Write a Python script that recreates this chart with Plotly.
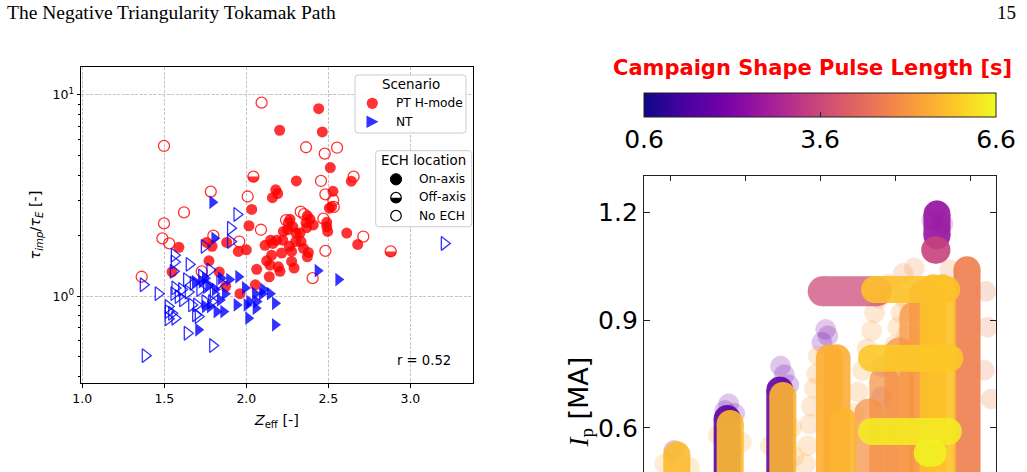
import plotly.graph_objects as go
from plotly.colors import sample_colorscale

FIG_W, FIG_H = 1027, 472

# ---------------- left panel data (Zeff, tau_imp/tau_E) ----------------
PT_ON_ZEFF = [2.441, 2.203, 2.463, 2.512, 2.305, 2.640, 2.179, 2.191, 2.159, 2.528, 2.506, 2.033,
              2.016, 2.266, 2.372, 2.364, 2.388, 2.252, 2.303, 2.283, 2.222, 2.185, 2.333, 2.348,
              2.378, 2.372, 2.276, 2.215, 2.154, 2.124, 2.144, 2.195, 2.205, 2.276, 2.291, 2.063,
              2.140, 2.055, 1.961, 2.612, 2.679, 2.496, 2.490, 1.589, 1.772, 1.791, 1.758, 1.880,
              1.951, 2.000, 2.114, 2.148, 1.835, 1.874, 1.547, 2.490, 2.520, 2.256, 2.226, 2.408,
              2.301, 2.262, 2.327, 2.368, 2.161]
PT_ON_TAU = [8.55, 6.68, 6.55, 4.36, 3.74, 3.73, 3.38, 3.24, 3.09, 3.32, 2.74, 2.70,
             2.24, 2.41, 2.51, 2.32, 2.41, 2.14, 2.06, 2.22, 1.90, 1.90, 1.87, 1.73,
             1.65, 1.57, 1.67, 1.64, 1.60, 1.50, 1.43, 1.40, 1.33, 1.49, 1.38, 1.36,
             1.25, 1.14, 1.03, 2.06, 1.81, 2.10, 2.33, 1.75, 1.50, 1.77, 1.85, 1.85,
             1.67, 1.70, 1.79, 1.90, 1.32, 1.12, 1.32, 2.22, 2.79, 2.32, 2.10, 2.26,
             1.87, 1.77, 2.06, 2.19, 1.83]

PT_NO_ZEFF = [2.093, 1.498, 2.364, 2.478, 2.553, 1.783, 2.455, 2.654, 2.008, 2.482, 2.530, 2.533,
              1.620, 1.498, 1.488, 1.530, 2.089, 1.957, 1.799, 2.331, 2.242, 2.470, 2.713, 2.482,
              1.362, 2.404, 1.728, 2.352]
PT_NO_TAU = [9.16, 5.58, 5.50, 5.11, 5.47, 3.31, 3.74, 3.93, 3.13, 3.21, 3.00, 2.78,
             2.61, 2.30, 1.94, 1.83, 2.14, 1.87, 2.00, 2.63, 2.39, 2.43, 1.98, 1.68,
             1.25, 1.23, 1.33, 2.56]

PT_OFF_ZEFF = [2.043, 2.880]
PT_OFF_TAU = [3.93, 1.67]

NT_ON_ZEFF = [1.793, 1.805, 2.435, 2.561, 1.951, 1.992, 2.104, 2.144, 2.175, 2.018, 2.063, 2.057,
              2.012, 2.175, 1.870, 1.839, 1.860, 1.819, 1.707, 1.748, 1.687, 1.728, 1.768, 1.748,
              1.846, 1.896, 2.002, 1.941, 2.096, 2.053, 1.778, 1.809]
NT_ON_TAU = [2.93, 1.94, 1.34, 1.21, 1.25, 1.10, 1.08, 1.03, 0.923, 0.941, 0.941, 0.872,
             0.778, 0.721, 1.03, 0.959, 0.839, 0.839, 0.681, 0.889, 1.18, 1.18, 1.14, 1.23,
             1.23, 1.21, 0.906, 0.906, 1.03, 1.03, 0.889, 1.08]

NT_NO_ZEFF = [1.384, 1.795, 1.640, 3.207, 1.943, 1.904, 1.904, 1.744, 1.561, 1.561, 1.555, 1.652,
              1.372, 1.463, 1.524, 1.524, 1.524, 1.565, 1.748, 1.691, 1.565, 1.606, 1.646, 1.585,
              1.677, 1.717, 1.758, 1.667, 1.612, 1.559, 1.778, 1.839, 1.799, 1.697, 1.789, 1.728,
              1.636, 1.545, 1.707]
NT_NO_TAU = [0.507, 0.569, 0.655, 1.83, 2.55, 2.18, 1.87, 1.77, 1.60, 1.48, 1.33, 1.44,
             1.14, 1.03, 0.889, 0.839, 0.772, 0.778, 0.941, 0.808, 1.10, 1.08, 1.05, 0.996,
             1.16, 1.08, 1.12, 0.906, 0.959, 1.03, 1.35, 1.17, 1.03, 0.906, 0.941, 1.26,
             1.21, 0.823, 0.793]

LEFT_X_TICKS = [1.0, 1.5, 2.0, 2.5, 3.0]
LEFT_Y_TICKS = [1, 10]
LEFT_Y_TICKTEXT = ["10<sup>0</sup>", "10<sup>1</sup>"]
LEFT_Y_MINOR = [0.4, 0.5, 0.6, 0.7, 0.8, 0.9, 2, 3, 4, 5, 6, 7, 8, 9]
R_VALUE = 0.52

SCENARIOS = ["PT H-mode", "NT"]
ECH_LOCATIONS = ["On-axis", "Off-axis", "No ECH"]

# ---------------- right panel data (x, Ip [MA], pulse length [s]) ----------------
LIGHT_X = [0.05, 0.78, 0.73, 0.86, 1.47, 1.52, 1.58, 2.07, 2.10, 2.02,
           3.55, 3.48, 3.63, 3.58, 2.81, 2.81,
           1.80, 1.83, 1.86, 1.88, 1.92, 1.95, 1.97,
           2.45, 2.50, 2.56, 2.62, 2.68, 2.72, 2.78,
           2.95, 2.99, 3.03, 3.07, 3.12, 3.15, 3.20,
           4.22, 4.27, 4.18, 4.20,
           3.10, 3.25, 3.72, 2.90,
           1.62, 1.65, 1.33, 0.95, 0.64, -0.07, 0.26]
LIGHT_IP = [0.537, 0.667, 0.648, 0.640, 0.772, 0.748, 0.720, 0.874, 0.856, 0.838,
            1.205, 1.178, 1.168, 1.150, 0.770, 0.686,
            0.50, 0.55, 0.61, 0.66, 0.71, 0.75, 0.80,
            0.64, 0.70, 0.76, 0.82, 0.87, 0.92, 0.96,
            0.78, 0.83, 0.88, 0.92, 0.96, 0.86, 0.92,
            0.88, 0.68, 0.76, 0.98,
            1.030, 1.045, 1.040, 1.000,
            0.60, 0.52, 0.55, 0.56, 0.58, 0.50, 0.49]
LIGHT_PULSE = [1.6, 1.9, 1.6, 1.8, 2.0, 1.8, 1.9, 2.1, 1.9, 1.8,
               2.4, 2.4, 2.5, 2.6, 2.0, 1.8,
               5.3, 5.3, 5.2, 5.2, 5.3, 5.2, 5.2,
               5.3, 5.2, 5.3, 5.2, 5.3, 5.2, 5.2,
               5.4, 5.3, 5.4, 5.3, 5.3, 5.2, 5.2,
               4.7, 4.7, 4.7, 4.6,
               4.9, 5.0, 4.9, 5.1,
               5.4, 5.4, 5.5, 5.4, 5.5, 5.5, 5.6]

# translucent runs (start/end x, start/end Ip, pulse length)
SOFT_X0 = [2.65, 2.85, 3.05, 3.25, 3.38, 2.03]
SOFT_X1 = [2.65, 2.85, 3.05, 3.25, 3.38, 2.75]
SOFT_IP0 = [0.40, 0.40, 0.40, 0.40, 0.40, 0.980]
SOFT_IP1 = [0.64, 0.73, 0.81, 0.91, 0.97, 0.980]
SOFT_PULSE = [5.0, 5.0, 5.0, 5.1, 5.1, 3.6]

# dense runs
SOLID_X0 = [3.95, 0.76, 1.46, 0.09, 0.80, 1.50, 2.12, 2.22, 2.30, 3.50, 3.62, 2.72, 2.68, 2.68, 3.42, 3.55, 3.52]
SOLID_X1 = [3.95, 0.76, 1.46, 0.09, 0.80, 1.50, 2.12, 2.22, 2.30, 3.50, 3.62, 3.68, 3.72, 3.70, 3.50, 3.55, 3.55]
SOLID_IP0 = [0.40, 0.40, 0.40, 0.40, 0.40, 0.40, 0.40, 0.40, 0.40, 0.40, 0.40, 0.985, 0.794, 0.590, 0.530, 1.135, 1.095]
SOLID_IP1 = [1.04, 0.626, 0.705, 0.525, 0.612, 0.690, 0.795, 0.795, 0.620, 0.990, 0.990, 0.985, 0.794, 0.590, 0.530, 1.195, 1.095]
SOLID_PULSE = [4.7, 1.6, 1.7, 5.7, 5.7, 5.6, 5.5, 5.5, 5.6, 5.8, 5.8, 5.8, 5.9, 6.4, 6.5, 2.5, 3.5]

RIGHT_X_TICKS = [0, 1, 2, 3, 4]
RIGHT_Y_TICKS = [0.6, 0.9, 1.2]
CBAR_MIN, CBAR_MAX = 0.6, 6.6
CBAR_TICKS = [0.6, 3.6, 6.6]

FONT = "DejaVu Sans"
RED = "rgba(255,0,0,0.8)"
BLUE = "rgba(0,0,255,0.8)"
GRID_DASH = "3px,1.5px"


def fx(px):
    return px / FIG_W


def fy(py):
    return 1 - py / FIG_H


def pulse_color(p):
    return sample_colorscale("Plasma", [(p - CBAR_MIN) / (CBAR_MAX - CBAR_MIN)])[0]


fig = go.Figure()

# ---------------- left panel ----------------
fig.add_trace(go.Scatter(x=PT_ON_ZEFF, y=PT_ON_TAU, mode="markers", xaxis="x", yaxis="y",
                         marker=dict(symbol="circle", size=11, color=RED, line=dict(width=0)),
                         showlegend=False, hoverinfo="skip"))
fig.add_trace(go.Scatter(x=PT_NO_ZEFF, y=PT_NO_TAU, mode="markers", xaxis="x", yaxis="y",
                         marker=dict(symbol="circle-open", size=11, color=RED, line=dict(width=1.3)),
                         showlegend=False, hoverinfo="skip"))
fig.add_trace(go.Scatter(x=PT_OFF_ZEFF, y=PT_OFF_TAU, mode="markers", xaxis="x", yaxis="y",
                         marker=dict(symbol="circle-open", size=11, color=RED, line=dict(width=1.3)),
                         showlegend=False, hoverinfo="skip"))
fig.add_trace(go.Scatter(x=NT_ON_ZEFF, y=NT_ON_TAU, mode="markers", xaxis="x", yaxis="y",
                         marker=dict(symbol="triangle-right", size=12, color=BLUE, line=dict(width=0)),
                         showlegend=False, hoverinfo="skip"))
fig.add_trace(go.Scatter(x=NT_NO_ZEFF, y=NT_NO_TAU, mode="markers", xaxis="x", yaxis="y",
                         marker=dict(symbol="triangle-right-open", size=12, color=BLUE, line=dict(width=1.3)),
                         showlegend=False, hoverinfo="skip"))

shapes = []


def half_disk(r):
    k = 0.5523 * r
    return (f"M {-r},0 C {-r},{-k} {-k},{-r} 0,{-r} C {k},{-r} {r},{-k} {r},0 Z")


# bottom-half fill for off-axis points (anchored at the data values)
for z, t in zip(PT_OFF_ZEFF, PT_OFF_TAU):
    shapes.append(dict(type="path", xref="x", yref="y", xsizemode="pixel", ysizemode="pixel",
                       xanchor=z, yanchor=t, path=half_disk(5.5), fillcolor=RED,
                       line=dict(width=0), layer="above"))


# ---- manual legends (screen-pixel layout anchored at the top-left of the figure) ----
def pix_shape(**kw):
    d = dict(xref="paper", yref="paper", xsizemode="pixel", ysizemode="pixel",
             xanchor=0, yanchor=1, layer="above")
    d.update(kw)
    return d


def rrect(x0, y0, x1, y1, r=3):
    return (f"M {x0 + r},{-y0} L {x1 - r},{-y0} Q {x1},{-y0} {x1},{-(y0 + r)} "
            f"L {x1},{-(y1 - r)} Q {x1},{-y1} {x1 - r},{-y1} L {x0 + r},{-y1} "
            f"Q {x0},{-y1} {x0},{-(y1 - r)} L {x0},{-(y0 + r)} Q {x0},{-y0} {x0 + r},{-y0} Z")


def circ(cx, cy, r, **kw):
    return pix_shape(type="circle", x0=cx - r, x1=cx + r, y0=-(cy - r), y1=-(cy + r), **kw)


# Scenario legend
shapes.append(pix_shape(type="path", path=rrect(355, 75, 466, 133),
                        fillcolor="rgba(255,255,255,0.85)", line=dict(color="#cccccc", width=1)))
shapes.append(circ(372.3, 103.3, 5.6, fillcolor=RED, line=dict(width=0)))
shapes.append(pix_shape(type="path", path="M 366.5,-115.5 L 378.5,-121.7 L 366.5,-127.9 Z",
                        fillcolor=BLUE, line=dict(width=0)))
# ECH location legend
shapes.append(pix_shape(type="path", path=rrect(375.7, 150.7, 471.7, 226.7),
                        fillcolor="rgba(255,255,255,0.85)", line=dict(color="#cccccc", width=1)))
shapes.append(circ(396, 179.3, 5.6, fillcolor="black", line=dict(color="black", width=1)))
shapes.append(circ(396, 197.7, 5.3, fillcolor="white", line=dict(color="black", width=1.2)))
shapes.append(pix_shape(type="path",
                        path="M 390.7,-197.7 C 390.7,-200.6 393.1,-203 396,-203 "
                             "C 398.9,-203 401.3,-200.6 401.3,-197.7 Z",
                        fillcolor="black", line=dict(width=0)))
shapes.append(circ(396, 215.7, 5.3, fillcolor="white", line=dict(color="black", width=1.2)))

annotations = []
annotations.append(dict(text="Scenario", x=fx(410.5), y=fy(85), xref="paper", yref="paper",
                        showarrow=False, xanchor="center", yanchor="middle",
                        font=dict(family=FONT, size=13.4, color="black")))
for i, name in enumerate(SCENARIOS):
    annotations.append(dict(text=name, x=fx(394), y=fy(103.3 + 18.4 * i), xref="paper", yref="paper",
                            showarrow=False, xanchor="left", yanchor="middle",
                            font=dict(family=FONT, size=12.2, color="black")))
annotations.append(dict(text="ECH location", x=fx(423.7), y=fy(160.7), xref="paper", yref="paper",
                        showarrow=False, xanchor="center", yanchor="middle",
                        font=dict(family=FONT, size=13.4, color="black")))
for i, name in enumerate(ECH_LOCATIONS):
    annotations.append(dict(text=name, x=fx(416.5), y=fy(179.3 + 18.2 * i), xref="paper", yref="paper",
                            showarrow=False, xanchor="left", yanchor="middle",
                            font=dict(family=FONT, size=12.2, color="black")))
annotations.append(dict(text=f"r = {R_VALUE:.2f}", x=fx(424), y=fy(360.5), xref="paper", yref="paper",
                        showarrow=False, xanchor="center", yanchor="middle",
                        font=dict(family=FONT, size=13.2, color="black")))

# ---------------- right panel ----------------
fig.add_trace(go.Scatter(
    x=LIGHT_X, y=LIGHT_IP, mode="markers", xaxis="x2", yaxis="y2", showlegend=False, hoverinfo="skip",
    marker=dict(size=20, color=LIGHT_PULSE, colorscale="Plasma", cmin=CBAR_MIN, cmax=CBAR_MAX,
                opacity=0.22,
                line=dict(width=0.8, color=LIGHT_PULSE, colorscale="Plasma", cmin=CBAR_MIN, cmax=CBAR_MAX),
                showscale=True,
                colorbar=dict(orientation="h", x=fx(820), xanchor="center", xref="paper",
                              y=fy(93), yanchor="top", yref="paper",
                              len=352, lenmode="pixels", thickness=23.5, thicknessmode="pixels",
                              xpad=0, ypad=0, outlinewidth=1, outlinecolor="#222",
                              tickvals=CBAR_TICKS, ticktext=[f"{v:.1f}" for v in CBAR_TICKS],
                              ticks="inside", ticklen=5, tickcolor="#222",
                              tickfont=dict(family=FONT, size=25, color="black")))))

SOFT_W = 30
SOLID_W = 27
for x0, x1, y0, y1, p in zip(SOFT_X0, SOFT_X1, SOFT_IP0, SOFT_IP1, SOFT_PULSE):
    c = pulse_color(p)
    fig.add_trace(go.Scatter(x=[x0, x1], y=[y0, y1], mode="lines+markers", xaxis="x2", yaxis="y2",
                             line=dict(color=c, width=SOFT_W), marker=dict(size=SOFT_W, color=c),
                             opacity=0.72, showlegend=False, hoverinfo="skip"))
for x0, x1, y0, y1, p in zip(SOLID_X0, SOLID_X1, SOLID_IP0, SOLID_IP1, SOLID_PULSE):
    c = pulse_color(p)
    fig.add_trace(go.Scatter(x=[x0, x1], y=[y0, y1], mode="lines+markers", xaxis="x2", yaxis="y2",
                             line=dict(color=c, width=SOLID_W), marker=dict(size=SOLID_W, color=c),
                             opacity=0.9, showlegend=False, hoverinfo="skip"))

annotations.append(dict(text="<b>Campaign Shape Pulse Length [s]</b>", x=fx(812), y=fy(68),
                        xref="paper", yref="paper", showarrow=False, xanchor="center", yanchor="middle",
                        font=dict(family=FONT, size=21, color="red")))
annotations.append(dict(
    text='<span style="font-family:Liberation Serif"><i>I</i><sub>p</sub></span> [MA]',
    x=fx(580), y=fy(355), xref="paper", yref="paper", showarrow=False, textangle=-90,
    xanchor="center", yanchor="top", font=dict(family=FONT, size=27, color="black")))

# page header
annotations.append(dict(text="The Negative Triangularity Tokamak Path", x=fx(5), y=fy(12),
                        xref="paper", yref="paper", showarrow=False, xanchor="left", yanchor="middle",
                        font=dict(family="Liberation Serif", size=19.5, color="black")))
annotations.append(dict(text="15", x=fx(1018), y=fy(12), xref="paper", yref="paper", showarrow=False,
                        xanchor="right", yanchor="middle",
                        font=dict(family="Liberation Serif", size=19, color="black")))

fig.update_layout(
    width=FIG_W, height=FIG_H, margin=dict(l=0, r=0, t=0, b=0),
    paper_bgcolor="white", plot_bgcolor="white",
    font=dict(family=FONT, color="black"),
    shapes=shapes, annotations=annotations, showlegend=False,
    xaxis=dict(domain=[fx(81), fx(472.7)], range=[0.992, 3.38], anchor="y",
               tickvals=LEFT_X_TICKS, tickformat=".1f", ticks="outside", ticklen=3.5, tickwidth=0.8,
               tickcolor="black", showline=True, linecolor="black", linewidth=1, mirror=True,
               showgrid=True, gridcolor="#c4c4c4", griddash=GRID_DASH, gridwidth=0.8, zeroline=False,
               tickfont=dict(size=12.5), automargin=False,
               title=dict(text="<i>Z</i><sub>eff</sub> [-]", font=dict(size=14.5), standoff=10)),
    yaxis=dict(domain=[fy(383), fy(67)], type="log", range=[-0.431, 1.139], anchor="x",
               tickvals=LEFT_Y_TICKS, ticktext=LEFT_Y_TICKTEXT, ticks="outside", ticklen=3.5,
               tickwidth=0.8, tickcolor="black", showline=True, linecolor="black", linewidth=1,
               mirror=True, showgrid=True, gridcolor="#c4c4c4", griddash=GRID_DASH, gridwidth=0.8,
               zeroline=False, tickfont=dict(size=12.5), automargin=False,
               minor=dict(tickvals=LEFT_Y_MINOR, ticks="outside", ticklen=2, tickwidth=0.6,
                          tickcolor="black", showgrid=False),
               title=dict(text="<i>τ</i><sub><i>imp</i></sub>/<i>τ</i><sub><i>E</i></sub> [-]",
                          font=dict(size=14.5), standoff=8)),
    xaxis2=dict(domain=[fx(644), fx(996)], range=[-0.346, 4.335], anchor="y2", side="top",
                tickvals=RIGHT_X_TICKS, showticklabels=False, ticks="inside", ticklen=5,
                tickcolor="#222", showline=True, linecolor="#222", linewidth=1.3, mirror=False,
                showgrid=False, zeroline=False, automargin=False),
    yaxis2=dict(domain=[0, fy(176)], range=[0.477, 1.301], anchor="x2",
                tickvals=RIGHT_Y_TICKS, tickformat=".1f", ticks="inside", ticklen=6, tickcolor="#222",
                showline=True, linecolor="#222", linewidth=1.3, mirror="ticks",
                showgrid=False, zeroline=False, automargin=False,
                tickfont=dict(size=25, color="black")),
)

fig.write_html("out.html")
